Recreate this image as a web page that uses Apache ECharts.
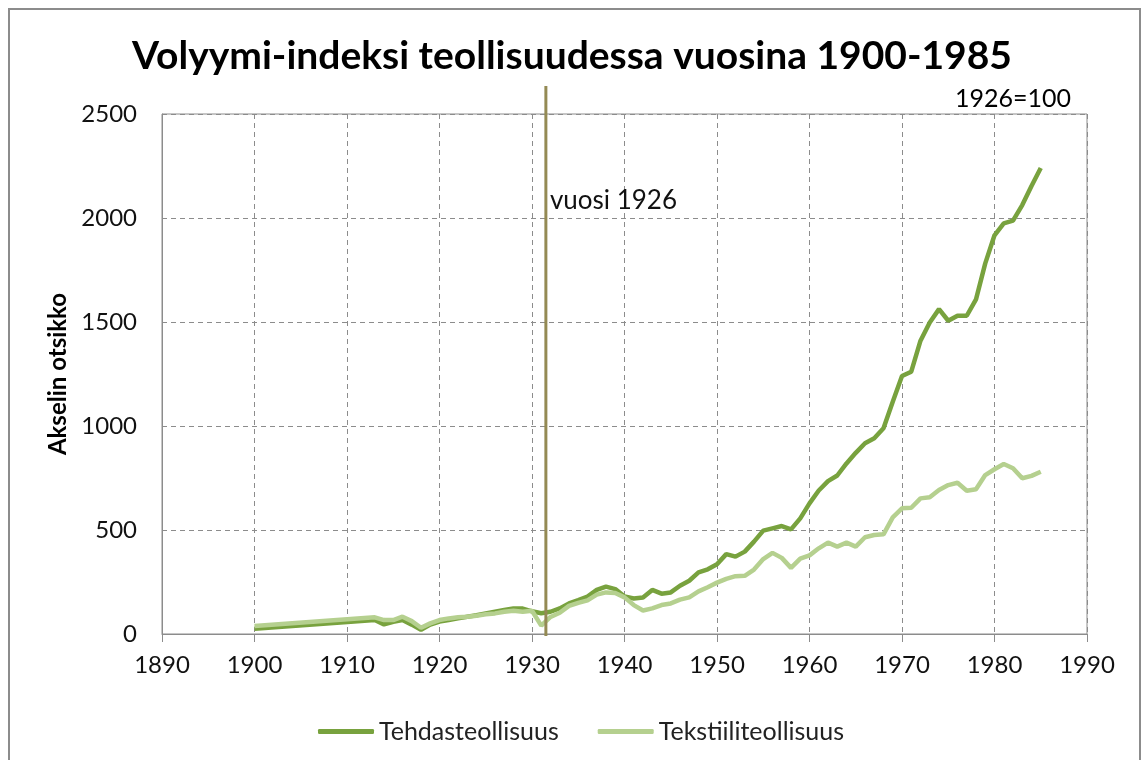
<!DOCTYPE html>
<html>
<head>
<meta charset="utf-8">
<script src="https://cdn.jsdelivr.net/npm/echarts@6/dist/echarts.min.js"></script>
<style>
  html, body { margin: 0; padding: 0; background: #fff; }
  #chart { width: 1144px; height: 760px; }
</style>
</head>
<body>
<div id="chart"></div>
<script>
// years with data (1900 then yearly from 1913)
const years = [1900, 1913, 1914, 1915, 1916, 1917, 1918, 1919, 1920, 1921, 1922, 1923, 1924, 1925,
  1926, 1927, 1928, 1929, 1930, 1931, 1932, 1933, 1934, 1935, 1936, 1937, 1938, 1939, 1940,
  1941, 1942, 1943, 1944, 1945, 1946, 1947, 1948, 1949, 1950, 1951, 1952, 1953, 1954, 1955,
  1956, 1957, 1958, 1959, 1960, 1961, 1962, 1963, 1964, 1965, 1966, 1967, 1968, 1969, 1970,
  1971, 1972, 1973, 1974, 1975, 1976, 1977, 1978, 1979, 1980, 1981, 1982, 1983, 1984, 1985];

const tehdas = [25, 67, 46, 59, 67, 45, 20, 45, 60, 67, 75, 83, 90, 99,
  107, 115, 123, 122, 109, 100, 107, 123, 147, 163, 180, 212, 228, 216, 180,
  171, 176, 212, 194, 200, 232, 256, 296, 311, 335, 384, 372, 396, 444, 497,
  508, 519, 503, 556, 628, 690, 735, 762, 820, 871, 917, 941, 989, 1117, 1240,
  1261, 1410, 1498, 1562, 1506, 1530, 1530, 1609, 1782, 1917, 1974, 1987, 2062, 2154, 2240];

const tekstiili = [38, 80, 67, 67, 83, 62, 30, 51, 67, 75, 80, 83, 88, 95,
  99, 107, 112, 107, 112, 40, 82, 102, 135, 150, 162, 189, 200, 197, 176,
  139, 113, 123, 139, 147, 165, 176, 205, 225, 247, 265, 278, 280, 310, 360,
  390, 366, 318, 362, 378, 412, 439, 420, 439, 420, 465, 476, 479, 561, 604,
  607, 652, 657, 692, 716, 727, 689, 696, 764, 792, 817, 797, 749, 760, 780];

const seriesNames = ["Tehdasteollisuus", "Tekstiiliteollisuus"];
const markerYear = 1931.5; // where the "vuosi 1926" line sits
const markerTop = 2635;    // line runs a bit above the plot
const markerLabel = "vuosi 1926";
const markerLabelValue = 2085;

const chart = echarts.init(document.getElementById("chart"));
const font = "Lato";

const option = {
  animation: false,
  title: [
    {
      text: "Volyymi-indeksi teollisuudessa vuosina 1900-1985",
      left: "center",
      top: 32,
      textStyle: { fontFamily: font, fontSize: 39, fontWeight: "bold", color: "#000" },
    },
    {
      text: "1926=100",
      right: 68,
      top: 81,
      textStyle: { fontFamily: font, fontSize: 25, fontWeight: "normal", color: "#000" },
    },
  ],
  legend: {
    data: seriesNames,
    left: 313,
    top: 714,
    icon: "roundRect",
    itemWidth: 56,
    itemHeight: 5,
    itemGap: 39,
    textStyle: { fontFamily: font, fontSize: 25, color: "#222" },
  },
  grid: {
    left: 162,
    right: 57,
    top: 114,
    bottom: 126,
    show: true,
    borderColor: "#8c8c8c",
    borderWidth: 1,
  },
  xAxis: {
    type: "value",
    min: 1890,
    max: 1990,
    interval: 10,
    axisLine: { show: true, lineStyle: { color: "#8c8c8c" } },
    axisTick: { show: true, length: 8, lineStyle: { color: "#8c8c8c" } },
    axisLabel: { fontFamily: font, fontSize: 24, color: "#111", margin: 19, formatter: (v) => String(v) },
    splitLine: { show: true, lineStyle: { type: [5, 4], color: "#8c8c8c" } },
  },
  yAxis: {
    type: "value",
    min: 0,
    max: 2500,
    interval: 500,
    name: "Akselin otsikko",
    nameLocation: "middle",
    nameGap: 90,
    nameTextStyle: { fontFamily: font, fontSize: 24, fontWeight: "bold", color: "#000" },
    axisLine: { show: true, lineStyle: { color: "#8c8c8c" } },
    axisTick: { show: false },
    axisLabel: { fontFamily: font, fontSize: 24, color: "#111", margin: 25, formatter: (v) => String(v) },
    splitLine: { show: true, lineStyle: { type: [5, 4], color: "#8c8c8c" } },
  },
  series: [
    {
      name: seriesNames[0],
      type: "line",
      data: years.map((y, i) => [y, tehdas[i]]),
      showSymbol: false,
      color: "#78a23e",
      lineStyle: { width: 4.5, color: "#78a23e" },
    },
    {
      name: seriesNames[1],
      type: "line",
      data: years.map((y, i) => [y, tekstiili[i]]),
      showSymbol: false,
      color: "#b5d08f",
      lineStyle: { width: 4.5, color: "#b5d08f" },
    },
  ],
};

chart.setOption(option);

// marker line and outer frame, placed through the axes' own scales
const mx = chart.convertToPixel({ xAxisIndex: 0 }, markerYear);
const myTop = chart.convertToPixel({ yAxisIndex: 0 }, markerTop);
const myBottom = chart.convertToPixel({ yAxisIndex: 0 }, 0) + 2;
const myLabel = chart.convertToPixel({ yAxisIndex: 0 }, markerLabelValue);

chart.setOption({
  graphic: [
    {
      type: "rect",
      shape: { x: 9, y: 9, width: 1131, height: 780 },
      style: { fill: "none", stroke: "#8c8c8c", lineWidth: 2 },
      silent: true,
    },
    {
      type: "line",
      shape: { x1: mx, y1: myTop, x2: mx, y2: myBottom },
      style: { stroke: "#948a54", lineWidth: 3 },
      z: 10,
      silent: true,
    },
    {
      type: "text",
      x: mx + 4,
      y: myLabel,
      style: {
        text: markerLabel,
        fontFamily: font,
        fontSize: 26,
        fill: "#111",
        verticalAlign: "middle",
      },
      z: 10,
      silent: true,
    },
  ],
});

window.addEventListener("resize", () => chart.resize());
</script>
</body>
</html>
